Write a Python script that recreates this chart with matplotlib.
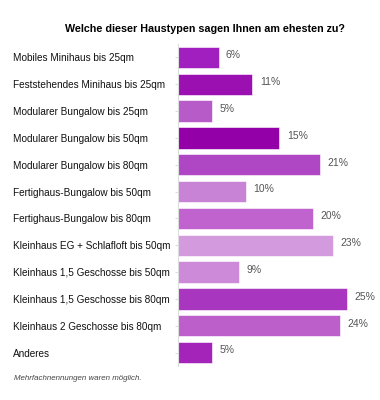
import matplotlib.pyplot as plt

categories = [
    'Mobiles Minihaus bis 25qm',
    'Feststehendes Minihaus bis 25qm',
    'Modularer Bungalow bis 25qm',
    'Modularer Bungalow bis 50qm',
    'Modularer Bungalow bis 80qm',
    'Fertighaus-Bungalow bis 50qm',
    'Fertighaus-Bungalow bis 80qm',
    'Kleinhaus EG + Schlafloft bis 50qm',
    'Kleinhaus 1,5 Geschosse bis 50qm',
    'Kleinhaus 1,5 Geschosse bis 80qm',
    'Kleinhaus 2 Geschosse bis 80qm',
    'Anderes',
]
values = [6, 11, 5, 15, 21, 10, 20, 23, 9, 25, 24, 5]
colors = ['#a11fbf', '#9a10b0', '#b65bc8', '#9300a8', '#af47c5', '#c883d6',
          '#c063cf', '#d49ade', '#cd8ad9', '#a936be', '#bc5fca', '#a424ba']

plt.rcParams['font.family'] = ['Liberation Sans', 'DejaVu Sans']

fig = plt.figure(figsize=(3.8, 4.0), dpi=100)
ax = fig.add_axes([178 / 380, 34 / 400, 196 / 380, 322 / 400])

pos = list(range(len(categories)))
ax.barh(pos, values, height=0.79, color=colors, edgecolor='white', linewidth=0.4)
ax.set_ylim(len(categories) - 0.5, -0.5)
ax.set_xlim(0, 29)

for p, v in zip(pos, values):
    ax.text(v + 1.1, p - 0.08, f'{v}%', va='center', ha='left', fontsize=7.5, color='#555555')

# labels are left aligned at x = 13 px, axis at 178 px -> 165 px = 118.8 pt
ax.set_yticks(pos)
ax.set_yticklabels(categories, fontsize=7.2, ha='left', color='#111111')
ax.tick_params(axis='y', length=2, color='#dddddd', pad=116.8)
ax.set_xticks([])
for s in ['top', 'right', 'bottom']:
    ax.spines[s].set_visible(False)
ax.spines['left'].set_color('#dddddd')
ax.spines['left'].set_linewidth(0.8)

fig.text(205 / 380, 1 - 29 / 400, 'Welche dieser Haustypen sagen Ihnen am ehesten zu?',
         ha='center', va='center', fontsize=7.75, fontweight='bold')
fig.text(14 / 380, 1 - 378 / 400, 'Mehrfachnennungen waren möglich.',
         ha='left', va='center', fontsize=5.7, style='italic', color='#444444')

fig.savefig('out.png', dpi=100)
